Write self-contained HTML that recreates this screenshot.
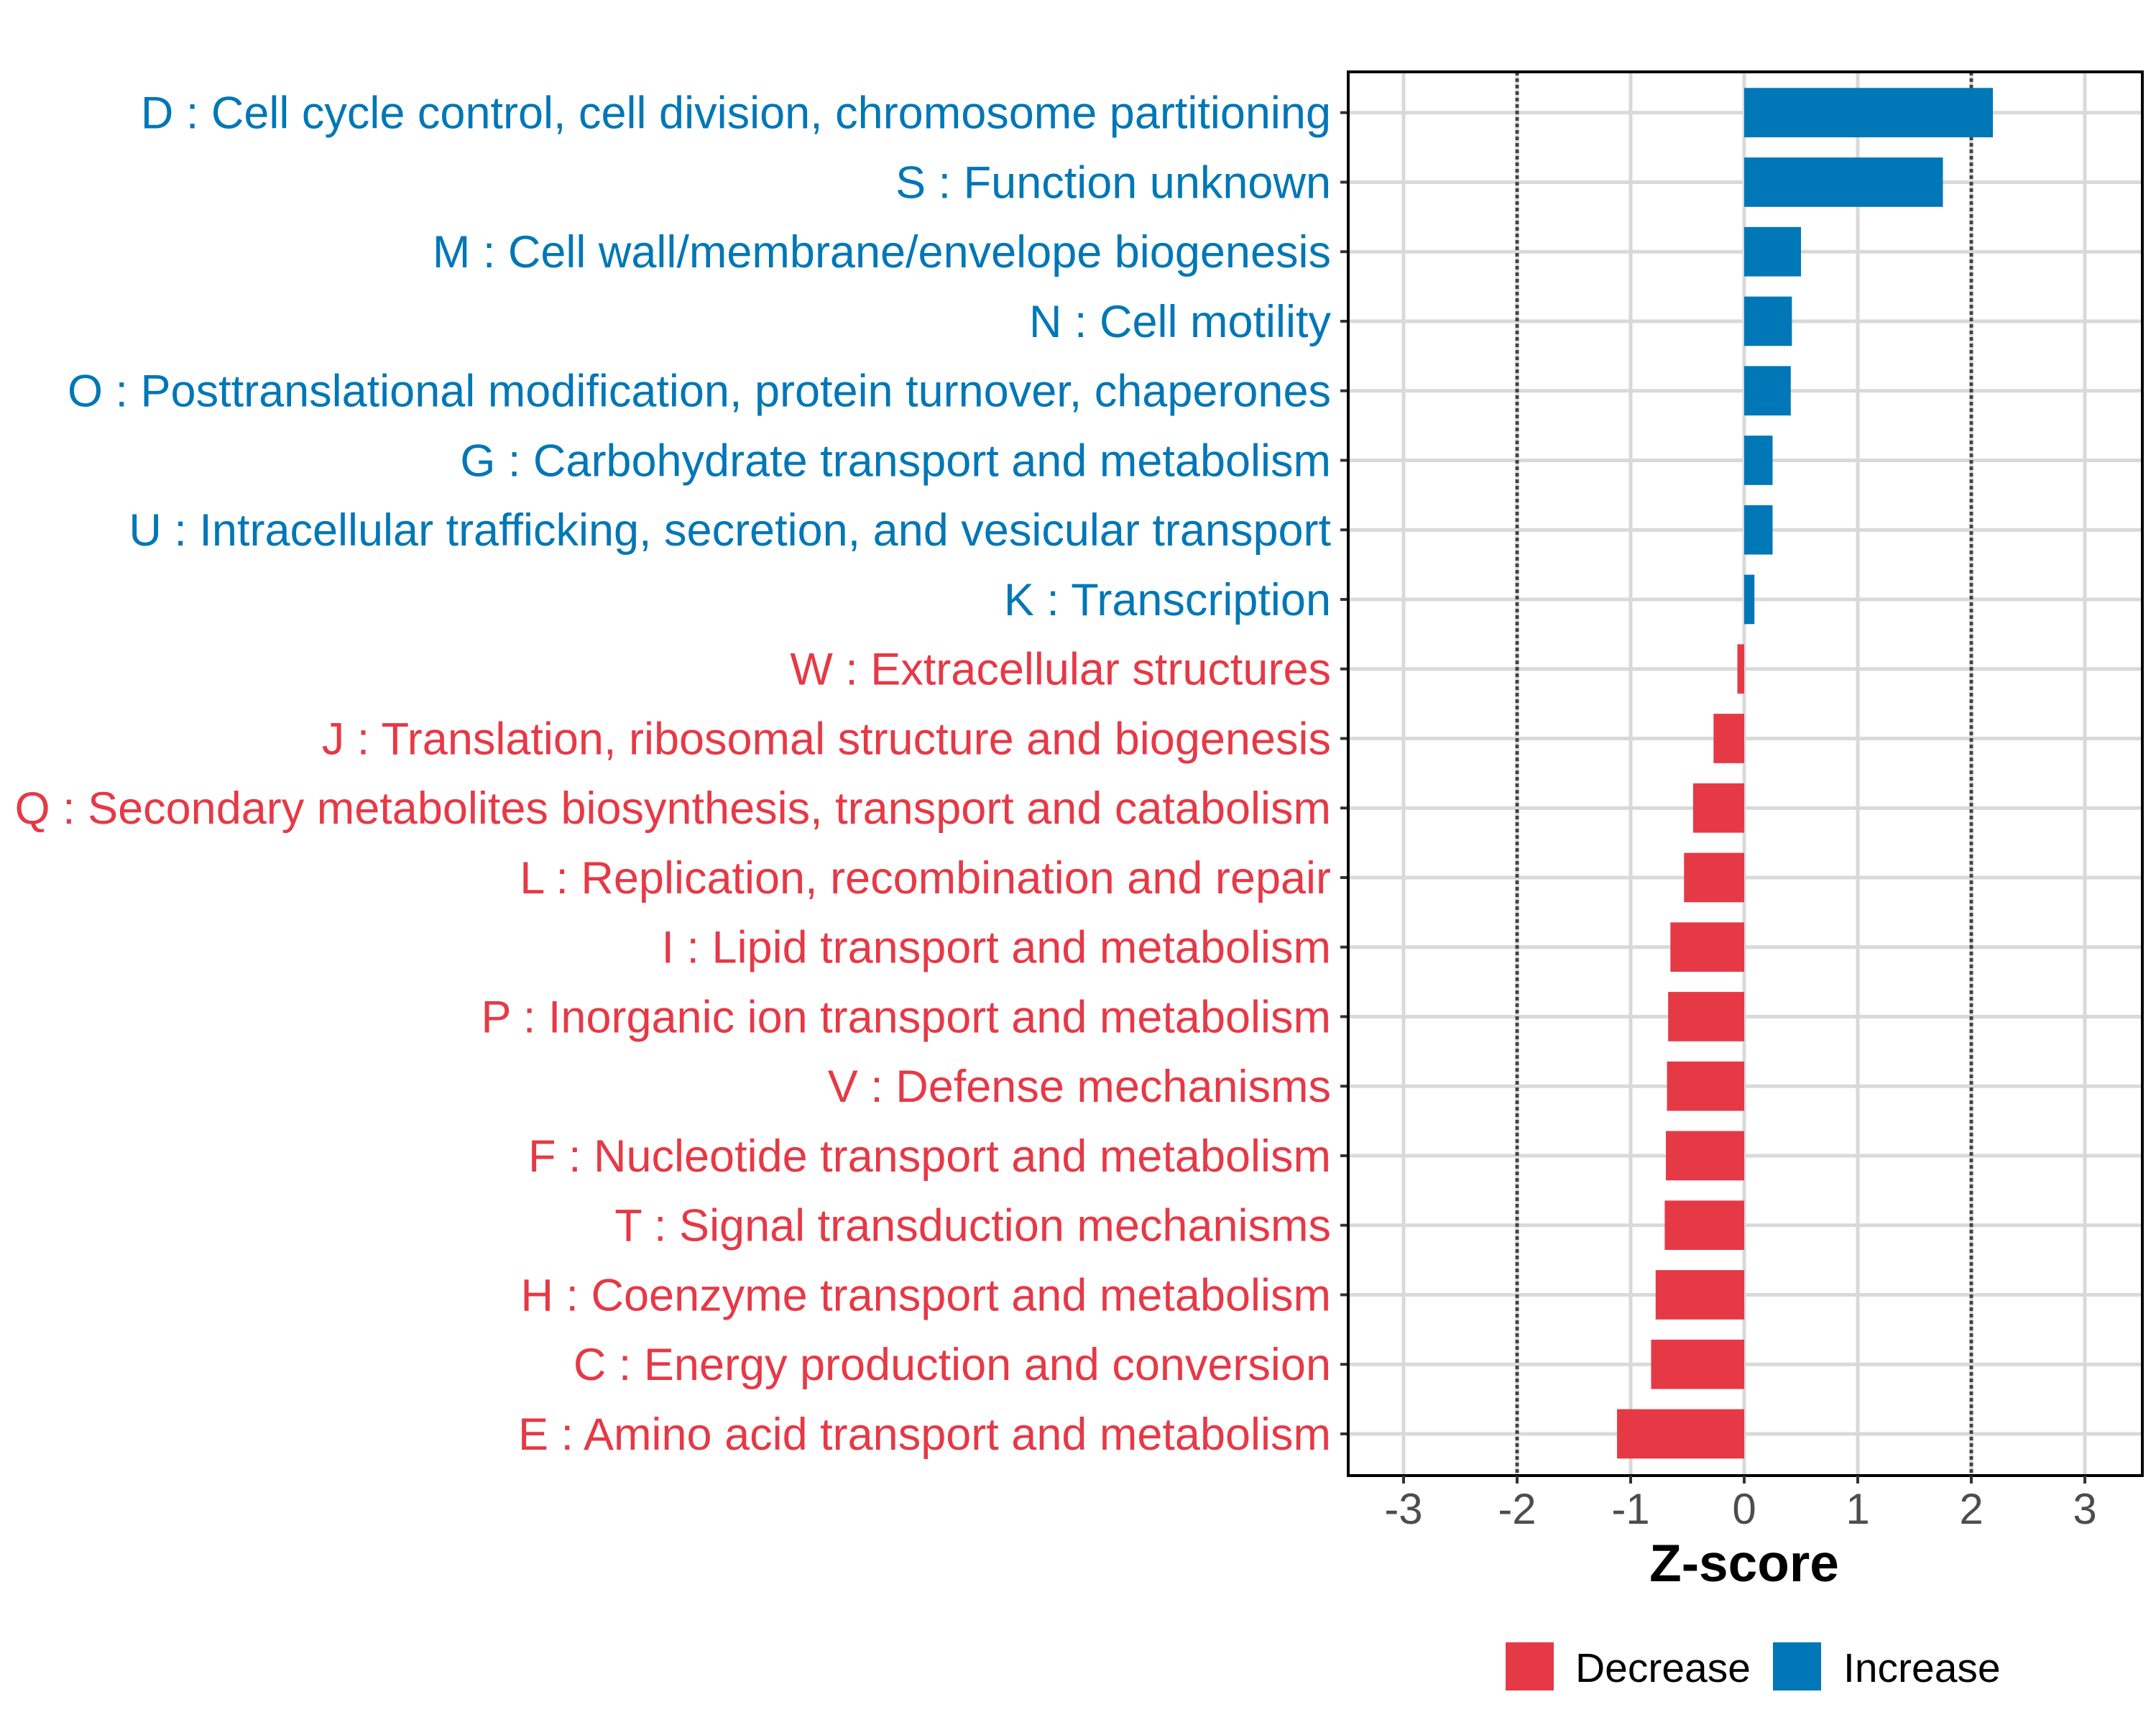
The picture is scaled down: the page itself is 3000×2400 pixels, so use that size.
<!DOCTYPE html>
<html><head><meta charset="utf-8"><style>
html,body{margin:0;padding:0;background:#fff;}
svg{display:block;font-family:"Liberation Sans",Arial,sans-serif;}
</style></head><body>
<svg id="chart" width="3000" height="2400" viewBox="0 0 3000 2400"></svg>
<script>
const categories = [
"D : Cell cycle control, cell division, chromosome partitioning",
"S : Function unknown",
"M : Cell wall/membrane/envelope biogenesis",
"N : Cell motility",
"O : Posttranslational modification, protein turnover, chaperones",
"G : Carbohydrate transport and metabolism",
"U : Intracellular trafficking, secretion, and vesicular transport",
"K : Transcription",
"W : Extracellular structures",
"J : Translation, ribosomal structure and biogenesis",
"Q : Secondary metabolites biosynthesis, transport and catabolism",
"L : Replication, recombination and repair",
"I : Lipid transport and metabolism",
"P : Inorganic ion transport and metabolism",
"V : Defense mechanisms",
"F : Nucleotide transport and metabolism",
"T : Signal transduction mechanisms",
"H : Coenzyme transport and metabolism",
"C : Energy production and conversion",
"E : Amino acid transport and metabolism"];
const zscores = [2.19,1.75,0.50,0.42,0.41,0.25,0.25,0.09,-0.06,-0.27,-0.45,-0.53,-0.65,-0.67,-0.68,-0.69,-0.70,-0.78,-0.82,-1.12];
const xTicks = [-3,-2,-1,0,1,2,3];
const refLines = [-2,2];
const legendLabels = ["Decrease","Increase"];

const NS="http://www.w3.org/2000/svg";
const svg=document.getElementById('chart');
const RED="#e63946", BLUE="#0077b6";
const P={l:1876,r:2981,t:100,b:2053};
const x0=2427, unit=158;
function xs(v){return x0+v*unit;}
const row0=156.7, step=96.75;
function ys(i){return row0+i*step;}
function mk(tag,attrs,parent){const e=document.createElementNS(NS,tag);for(const k in attrs)e.setAttribute(k,attrs[k]);(parent||svg).appendChild(e);return e;}

const panel=mk('rect',{x:P.l,y:P.t,width:P.r-P.l,height:P.b-P.t,fill:'#fff'});



xTicks.forEach(t=>{
 const g=mk('line',{x1:xs(t),x2:xs(t),y1:P.t,y2:P.b,stroke:'#d9d9d9','stroke-width':5});
 
 
});
categories.forEach((c,i)=>{
 const g=mk('line',{x1:P.l,x2:P.r,y1:ys(i),y2:ys(i),stroke:'#d9d9d9','stroke-width':5});
 
 
});
refLines.forEach(v=>{
 const l=mk('line',{x1:xs(v),x2:xs(v),y1:P.t,y2:P.b,stroke:'#444','stroke-width':5,'stroke-dasharray':'5 4'});
 
 
});
const bh=step*0.71;
categories.forEach((c,i)=>{
 const v=zscores[i];
 const col=v>=0?BLUE:RED;
 const b=mk('rect',{x:Math.min(xs(0),xs(v)),y:ys(i)-bh/2,width:Math.abs(xs(v)-xs(0)),height:bh,fill:col});
 
 
 const tk=mk('line',{x1:P.l-11,x2:P.l,y1:ys(i),y2:ys(i),stroke:'#333','stroke-width':4});
 
 
 const t=mk('text',{x:1852,y:ys(i)+22,'text-anchor':'end','font-size':63,fill:col});
 t.textContent=c;
 
 
});
const border=mk('rect',{x:P.l,y:P.t,width:P.r-P.l,height:P.b-P.t,fill:'none',stroke:'#000','stroke-width':4});


xTicks.forEach(t=>{
 const tk=mk('line',{x1:xs(t),x2:xs(t),y1:P.b,y2:P.b+11,stroke:'#333','stroke-width':4});
 
 
 const l=mk('text',{x:xs(t),y:2120,'text-anchor':'middle','font-size':60,fill:'#4d4d4d'});
 l.textContent=String(t);
 
 
});
const title=mk('text',{x:xs(0),y:2200,'text-anchor':'middle','font-size':73,'font-weight':'bold',fill:'#000'});
title.textContent="Z-score";



const legX=[2095,2467], legTX=[2192,2565];
[RED,BLUE].forEach((col,i)=>{
 const s=mk('rect',{x:legX[i],y:2285,width:67,height:67,fill:col});
 
 
 const t=mk('text',{x:legTX[i],y:2340,'font-size':57,fill:'#000'});
 t.textContent=legendLabels[i];
 
 
});
</script>
</body></html>
